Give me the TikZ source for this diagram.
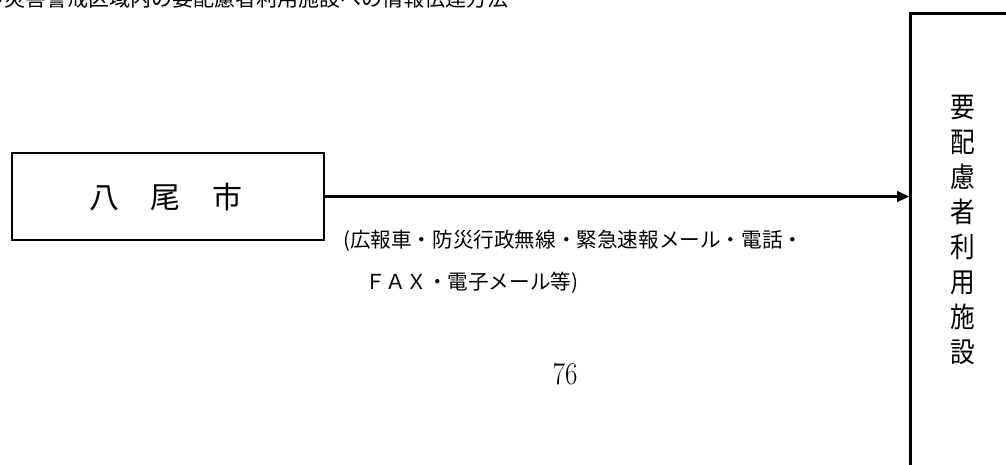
\documentclass[tikz,border=0pt]{standalone}
\usepackage{fontspec}
\newfontfamily\jp{Noto Sans CJK JP}
\usetikzlibrary{arrows.meta,positioning}
\tikzset{
  frame/.style={draw=black, line width=2.2pt, inner sep=0pt},
  conn/.style={line width=2.2pt, -{Triangle[length=12pt,width=11pt]}},
  jptext/.style={font=\jp, inner sep=0pt, text=black},
}
\begin{document}
\begin{tikzpicture}[x=1pt,y=-1pt]
\useasboundingbox (0,0) rectangle (1006,464);
\clip (0,0) rectangle (1006,464);
% title, cut off at the top of the page
\node[jptext, font=\jp\fontsize{21}{21}\selectfont, anchor=east] (title) at (509,-1) {土砂災害警戒区域内の要配慮者利用施設への情報伝達方法};
% left box
\node[frame, minimum width=312pt, minimum height=87pt] (yao) at (168,196.5) {};
\node[jptext, font=\jp\fontsize{30}{30}\selectfont] (yaolabel) at (166,197) {八\hspace{32pt}尾\hspace{32pt}市};
% right box
\node[frame, anchor=north west, minimum width=140pt, minimum height=480pt, line width=2.5pt] (fac) at (909,12) {};
\node[jptext, font=\jp\fontsize{28}{35}\selectfont, align=center, anchor=north] (faclabel) at (963,95)
  {\scalebox{0.88}[1]{要}\\\scalebox{0.88}[1]{配}\\\scalebox{0.88}[1]{慮}\\\scalebox{0.88}[1]{者}\\\scalebox{0.88}[1]{利}\\\scalebox{0.88}[1]{用}\\\scalebox{0.88}[1]{施}\\\scalebox{0.88}[1]{設}};
% connector
\draw[conn] (yao.east) -- (yao.east -| fac.west);
% labels
\node[jptext, font=\jp\fontsize{20.6}{20.6}\selectfont, anchor=west] (means1) at (343,241)
  {(広報車・防災行政無線・緊急速報メール・電話・};
\node[jptext, font=\jp\fontsize{20.6}{20.6}\selectfont, anchor=west] (means2) at (365,283)
  {ＦＡＸ・電子メール等)};
% page number
\node[inner sep=0pt, font=\fontsize{30}{30}\selectfont] (page) at (565,374) {\scalebox{0.9}[1.05]{76}};
\end{tikzpicture}
\end{document}
